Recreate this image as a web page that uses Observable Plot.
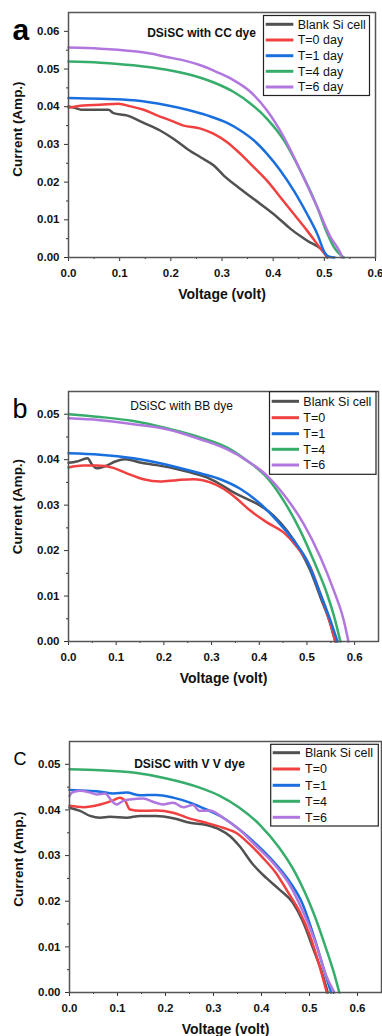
<!DOCTYPE html>
<html><head><meta charset="utf-8">
<script src="https://cdn.jsdelivr.net/npm/d3@7"></script>
<script src="https://cdn.jsdelivr.net/npm/@observablehq/plot@0.6"></script>
<style>
body{margin:0;background:#fff;width:382px;height:1036px;overflow:hidden;font-family:"Liberation Sans",Arial,sans-serif}
#root{position:relative;width:382px;height:1036px}
.panel{position:absolute;left:0;width:382px}
.panel svg{overflow:visible}
.legend{position:absolute;left:0;top:0;pointer-events:none}
</style></head><body><div id="root"></div>
<script>
// ---------- series ----------
const seriesKeys = ["Blank", "T0", "T1", "T4", "T6"];
const legendA = ["Blank Si cell", "T=0 day", "T=1 day", "T=4 day", "T=6 day"];
const legendBC = ["Blank Si cell", "T=0", "T=1", "T=4", "T=6"];
const colors = ["#515151", "#F14040", "#1A6FDF", "#37AD6B", "#B177DE"];

// ---------- ticks ----------
const xTicks = [0, 0.1, 0.2, 0.3, 0.4, 0.5, 0.6];
const xMinorA = [0.05, 0.15, 0.25, 0.35, 0.45, 0.55];
const xMinorBC = [0.05, 0.15, 0.25, 0.35, 0.45, 0.55];
const yTicksA = [0, 0.01, 0.02, 0.03, 0.04, 0.05, 0.06];
const yMinorA = [0.005, 0.015, 0.025, 0.035, 0.045, 0.055];
const yTicksBC = [0, 0.01, 0.02, 0.03, 0.04, 0.05];
const yMinorBC = [0.005, 0.015, 0.025, 0.035, 0.045];

// ---------- panel a : DSiSC with CC dye  [voltage, current] ----------
const aBlank = [[0,0.0401],[0.012,0.0397],[0.025,0.0392],[0.05,0.0392],[0.078,0.0392],[0.088,0.0383],[0.114,0.0377],[0.147,0.0357],[0.179,0.0337],[0.205,0.0315],[0.232,0.0288],[0.258,0.0266],[0.284,0.0244],[0.303,0.0218],[0.336,0.0182],[0.375,0.0142],[0.408,0.0107],[0.434,0.0076],[0.466,0.0045],[0.502,0.001],[0.506,0]];
const aT0 = [[0,0.0397],[0.029,0.0403],[0.062,0.0405],[0.098,0.0408],[0.121,0.0401],[0.147,0.0392],[0.173,0.0377],[0.199,0.0364],[0.225,0.035],[0.258,0.0342],[0.284,0.0328],[0.31,0.0306],[0.336,0.0275],[0.362,0.024],[0.388,0.0204],[0.414,0.016],[0.44,0.0116],[0.466,0.0072],[0.493,0.0023],[0.506,0]];
const aT1 = [[0,0.0423],[0.062,0.0421],[0.127,0.0417],[0.192,0.0404],[0.232,0.0392],[0.271,0.0377],[0.31,0.0357],[0.336,0.0337],[0.362,0.0311],[0.388,0.0275],[0.414,0.0231],[0.44,0.0178],[0.466,0.0116],[0.486,0.0063],[0.502,0.001],[0.51,0.0002],[0.52,0]];
const aT4 = [[0,0.052],[0.062,0.0517],[0.127,0.051],[0.192,0.0498],[0.258,0.0477],[0.29,0.0461],[0.323,0.0439],[0.356,0.0408],[0.388,0.0368],[0.421,0.0311],[0.453,0.0231],[0.486,0.0134],[0.506,0.0063],[0.519,0.0027],[0.538,0]];
const aT6 = [[0,0.0557],[0.062,0.0554],[0.095,0.0551],[0.16,0.0541],[0.192,0.0532],[0.225,0.0523],[0.258,0.051],[0.29,0.0492],[0.323,0.047],[0.356,0.0439],[0.388,0.039],[0.421,0.0319],[0.453,0.0231],[0.486,0.0134],[0.512,0.0054],[0.532,0.001],[0.535,0]];

// ---------- panel b : DSiSC with BB dye ----------
const bBlank = [[0,0.0393],[0.017,0.0396],[0.04,0.0403],[0.049,0.039],[0.059,0.0381],[0.08,0.0387],[0.098,0.0396],[0.119,0.0401],[0.15,0.0394],[0.185,0.0388],[0.22,0.0381],[0.255,0.0372],[0.29,0.0361],[0.318,0.0346],[0.346,0.0328],[0.374,0.0314],[0.402,0.0299],[0.43,0.0277],[0.458,0.0244],[0.486,0.02],[0.507,0.0156],[0.528,0.0098],[0.549,0.0039],[0.558,0.0007],[0.561,0]];
const bT0 = [[0,0.0383],[0.031,0.0387],[0.059,0.0387],[0.094,0.0382],[0.122,0.037],[0.157,0.0357],[0.192,0.0352],[0.227,0.0355],[0.262,0.0357],[0.297,0.035],[0.325,0.0336],[0.353,0.0314],[0.381,0.0288],[0.416,0.0262],[0.451,0.024],[0.479,0.0208],[0.507,0.0164],[0.528,0.0105],[0.549,0.0039],[0.559,0]];
const bT1 = [[0,0.0414],[0.066,0.0411],[0.136,0.0403],[0.206,0.0389],[0.276,0.037],[0.318,0.0357],[0.36,0.0336],[0.402,0.0303],[0.437,0.0266],[0.472,0.0222],[0.5,0.0178],[0.528,0.0105],[0.549,0.0047],[0.564,0]];
const bT4 = [[0,0.05],[0.066,0.0494],[0.136,0.0485],[0.206,0.0469],[0.276,0.0449],[0.332,0.0427],[0.374,0.0398],[0.416,0.0361],[0.451,0.031],[0.486,0.0244],[0.514,0.0178],[0.542,0.0105],[0.559,0.0047],[0.57,0]];
const bT6 = [[0,0.0491],[0.066,0.0487],[0.136,0.0478],[0.206,0.0467],[0.276,0.0445],[0.332,0.0423],[0.374,0.0398],[0.416,0.0365],[0.458,0.0314],[0.493,0.0259],[0.528,0.0186],[0.556,0.0113],[0.577,0.0047],[0.587,0]];

// ---------- panel c : DSiSC with V V dye ----------
const cBlank = [[0,0.0405],[0.022,0.0398],[0.043,0.0387],[0.064,0.0383],[0.084,0.0385],[0.119,0.0383],[0.147,0.0387],[0.181,0.0387],[0.216,0.0382],[0.251,0.0372],[0.285,0.0367],[0.313,0.0357],[0.334,0.0343],[0.354,0.0321],[0.382,0.0281],[0.41,0.0251],[0.437,0.0226],[0.465,0.0197],[0.486,0.0156],[0.507,0.0098],[0.527,0.004],[0.538,0]];
const cT0 = [[0,0.0409],[0.029,0.0406],[0.064,0.0412],[0.091,0.0421],[0.105,0.0427],[0.116,0.042],[0.126,0.0401],[0.147,0.0398],[0.181,0.0399],[0.216,0.0394],[0.251,0.0381],[0.285,0.0372],[0.32,0.0361],[0.347,0.035],[0.375,0.0325],[0.403,0.0295],[0.43,0.0262],[0.458,0.0215],[0.479,0.0178],[0.5,0.0127],[0.52,0.0061],[0.536,0]];
const cT1 = [[0,0.0444],[0.036,0.0442],[0.064,0.044],[0.091,0.0436],[0.119,0.0438],[0.147,0.0432],[0.181,0.0433],[0.216,0.0427],[0.251,0.0416],[0.285,0.0401],[0.32,0.0383],[0.354,0.0357],[0.389,0.0325],[0.424,0.0288],[0.458,0.0244],[0.486,0.0193],[0.51,0.012],[0.531,0.0047],[0.545,0]];
const cT4 = [[0,0.0489],[0.064,0.0487],[0.133,0.0482],[0.202,0.0469],[0.271,0.0449],[0.313,0.0431],[0.354,0.0405],[0.396,0.0368],[0.437,0.0317],[0.472,0.0259],[0.507,0.0178],[0.534,0.0098],[0.552,0.0039],[0.562,0]];
const cT6 = [[0,0.0431],[0.005,0.0438],[0.022,0.0442],[0.043,0.0438],[0.057,0.0434],[0.074,0.0436],[0.088,0.042],[0.098,0.0412],[0.112,0.042],[0.126,0.0423],[0.154,0.0425],[0.174,0.0418],[0.195,0.0412],[0.216,0.0416],[0.237,0.0406],[0.257,0.0411],[0.271,0.0398],[0.292,0.0399],[0.32,0.0383],[0.354,0.0357],[0.389,0.0321],[0.424,0.0284],[0.458,0.0237],[0.486,0.0178],[0.514,0.0105],[0.534,0.0039],[0.552,0]];

// ---------- layout ----------
const FONT = '"Liberation Sans", Arial, Helvetica, sans-serif';
const panels = [
  {series:[aBlank,aT0,aT1,aT4,aT6], legend:legendA, top:0, height:305, mt:12, mb:48, ml:68, mr:7,
   xdom:[0,0.6], ydom:[0,0.065], xMinor:xMinorA, yTicks:yTicksA, yMinor:yMinorA,
   letter:"a", letterBold:true, letterSize:30, letterDx:-56, letterDy:27,
   title:"DSiSC with CC dye", titleBold:true, titleDx:133, titleDy:24,
   ylabDy:-6, xlabDy:41,
   leg:{x0:263.5, x1:369.5, y0:15.5, y1:95.5, ys:[24.3,40,55.7,71.3,87], sx0:265.7, sx1:293.3, tx:297.7}},
  {series:[bBlank,bT0,bT1,bT4,bT6], legend:legendBC, top:370, height:320, mt:21, mb:49, ml:68, mr:4,
   xdom:[0,0.65], ydom:[0,0.055], xMinor:xMinorBC, yTicks:yTicksBC, yMinor:yMinorBC,
   letter:"b", letterBold:false, letterSize:27, letterDx:-56, letterDy:26,
   title:"DSiSC with BB dye", titleBold:false, titleDx:113, titleDy:18,
   ylabDy:-10, xlabDy:41,
   leg:{x0:269.5, x1:376, y0:21.7, y1:104.3, ys:[31.3,47.7,63.7,79.3,95], sx0:271.7, sx1:299, tx:303.3}},
  {series:[cBlank,cT0,cT1,cT4,cT6], legend:legendBC, top:720, height:316, mt:21, mb:44, ml:69, mr:1,
   xdom:[0,0.65], ydom:[0,0.055], xMinor:xMinorBC, yTicks:yTicksBC, yMinor:yMinorBC,
   letter:"C", letterBold:false, letterSize:18, letterDx:-56, letterDy:23,
   title:"DSiSC with V V dye", titleBold:true, titleDx:120, titleDy:26,
   ylabDy:-8, xlabDy:41,
   leg:{x0:270.7, x1:378.3, y0:24.3, y1:106, ys:[32.7,49,65.3,81.3,97.3], sx0:272.7, sx1:300, tx:305}}
];

const root = document.getElementById("root");

for (const p of panels) {
  const rows = [];
  p.series.forEach((arr, k) => arr.forEach(([v, i]) => rows.push({series: seriesKeys[k], v, i})));

  const chart = Plot.plot({
    width: 382, height: p.height,
    marginTop: p.mt, marginBottom: p.mb, marginLeft: p.ml, marginRight: p.mr,
    style: {fontFamily: FONT, background: "transparent", overflow: "visible", color: "#111"},
    x: {domain: p.xdom},
    y: {domain: p.ydom},
    color: {domain: seriesKeys, range: colors},
    marks: [
      Plot.axisX({ticks: xTicks, tickSize: 4, tickPadding: 7, tickFormat: d3.format(".1f"), fontWeight: "bold", fontSize: 11.5, label: null, stroke: "#333"}),
      Plot.axisX({ticks: p.xMinor, tickSize: 2, tickFormat: () => "", label: null, stroke: "#333"}),
      Plot.axisY({ticks: p.yTicks, tickSize: 4, tickPadding: 5, tickFormat: d3.format(".2f"), fontWeight: "bold", fontSize: 11.5, label: null, stroke: "#333"}),
      Plot.axisY({ticks: p.yMinor, tickSize: 2, tickFormat: () => "", label: null, stroke: "#333"}),
      Plot.line(rows, {x: "v", y: "i", z: "series", stroke: "series", strokeWidth: 2.5, curve: "monotone-x"}),
      Plot.frame({stroke: "#555", strokeWidth: 1.5}),
      Plot.text(["Voltage (volt)"], {text: d => d, frameAnchor: "bottom", textAnchor: "middle", lineAnchor: "bottom", dy: p.xlabDy, fontWeight: "bold", fontSize: 14, fill: "#111"}),
      Plot.text(["Current (Amp.)"], {text: d => d, frameAnchor: "left", textAnchor: "middle", lineAnchor: "middle", rotate: -90, dx: -51, dy: p.ylabDy, fontWeight: "bold", fontSize: 13.5, fill: "#111"}),
      Plot.text([p.letter], {text: d => d, frameAnchor: "top-left", textAnchor: "start", lineAnchor: "bottom", dx: p.letterDx, dy: p.letterDy, fontWeight: p.letterBold ? "bold" : "normal", fontSize: p.letterSize, fill: "#000"}),
      Plot.text([p.title], {text: d => d, frameAnchor: "top-left", textAnchor: "middle", lineAnchor: "bottom", dx: p.titleDx, dy: p.titleDy, fontWeight: p.titleBold ? "bold" : "normal", fontSize: 12, fill: "#111"})
    ]
  });

  const div = document.createElement("div");
  div.className = "panel";
  div.style.top = p.top + "px";
  div.style.height = p.height + "px";
  div.appendChild(chart);

  // legend overlay
  const L = p.leg;
  const svg = d3.create("svg").attr("class", "legend").attr("width", 382).attr("height", p.height)
    .style("font-family", FONT);
  svg.append("rect").attr("x", L.x0).attr("y", L.y0).attr("width", L.x1 - L.x0).attr("height", L.y1 - L.y0)
    .attr("fill", "#fff").attr("stroke", "#222").attr("stroke-width", 1.2);
  p.legend.forEach((name, k) => {
    svg.append("line").attr("x1", L.sx0).attr("x2", L.sx1).attr("y1", L.ys[k]).attr("y2", L.ys[k])
      .attr("stroke", colors[k]).attr("stroke-width", 3);
    svg.append("text").attr("x", L.tx).attr("y", L.ys[k]).attr("dy", "0.35em")
      .attr("font-size", 12.5).attr("fill", "#111").text(name);
  });
  div.appendChild(svg.node());
  root.appendChild(div);
}
</script>
</body></html>
